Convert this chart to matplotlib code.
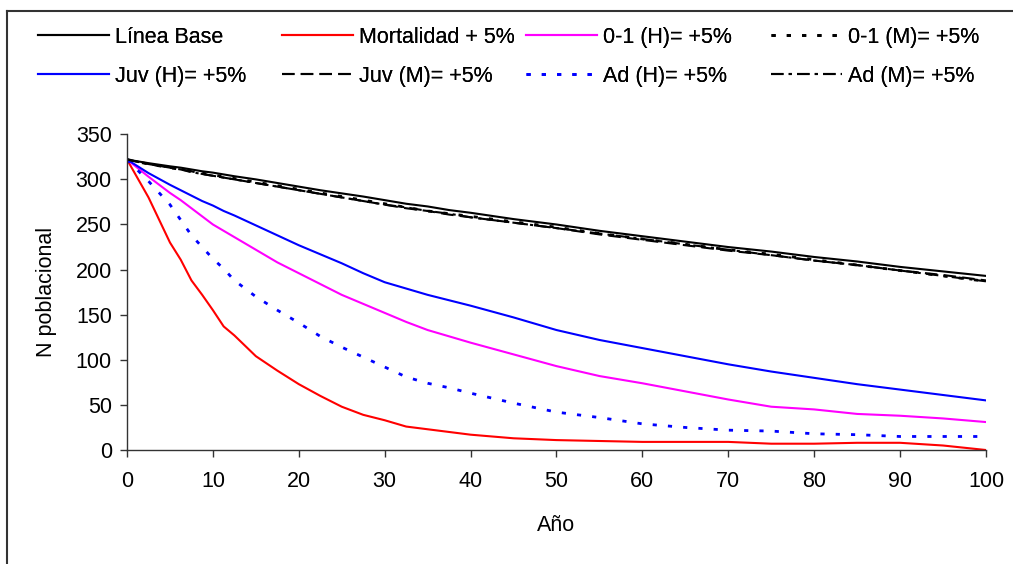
import matplotlib
matplotlib.use("Agg")
import matplotlib.pyplot as plt
from matplotlib.lines import Line2D

plt.rcParams["font.family"] = ["Liberation Sans", "DejaVu Sans"]

# Simulation years
years = [0, 2.5, 5, 6.25, 7.5, 8.75, 10, 11.25, 12.5, 15, 17.5, 20, 22.5, 25, 27.5,
         30, 32.5, 35, 37.5, 40, 45, 50, 55, 60, 65, 70, 75, 80, 85, 90, 95, 100]

# Population size under each scenario
linea_base = [322, 318, 314.5, 313, 311, 309, 307.5, 305.5, 303.5, 300, 296, 292, 288, 284.5, 281,
              277, 273, 270, 266, 263, 256, 250, 243, 237, 231, 225, 220, 214, 209, 203, 198, 193]
mortalidad = [322, 280, 230, 211, 188, 172, 155, 137, 127, 104, 88, 73, 60, 48, 39,
              33, 26, 23, 20, 17, 13, 11, 10, 9, 9, 9, 7, 7, 8, 8, 5, 0]
cria_h = [322, 303, 285, 277, 268, 259, 250, 243, 236, 222, 208, 196, 184, 172, 162,
          152, 142, 133, 126, 119, 106, 93, 82, 74, 65, 56, 48, 45, 40, 38, 35, 31]
cria_m = [322, 317, 313, 311, 309, 307, 305, 303, 301, 297, 293, 289, 285, 281, 277,
          273, 269, 265, 262, 259, 253, 247, 240, 234, 228, 222, 217, 211, 205, 199, 193, 187]
juv_h = [322, 307, 294, 288, 282, 276, 271, 265, 260, 249, 238, 227, 217, 207, 196,
         186, 179, 172, 166, 160, 147, 133, 122, 113, 104, 95, 87, 80, 73, 67, 61, 55]
juv_m = [322, 317, 313, 311, 309, 306, 304, 302, 300, 296, 292, 288, 284, 280, 276,
         272, 268, 265, 261, 258, 252, 246, 239, 233, 227, 221, 216, 210, 205, 199, 194, 188]
ad_h = [322, 298, 272, 255, 238, 225, 212, 201, 188, 170, 155, 141, 126, 114, 103,
        92, 81, 74, 69, 63, 52, 42, 36, 29, 25, 22, 21, 18, 17, 15, 15, 15]
ad_m = [322, 317, 313, 311, 308, 306, 304, 302, 300, 296, 292, 288, 284, 280, 276,
        272, 269, 265, 262, 258, 252, 246, 240, 234, 228, 222, 216, 210, 205, 199, 193, 187]

labels = ["Línea Base", "Mortalidad + 5%", "0-1 (H)= +5%", "0-1 (M)= +5%",
          "Juv (H)= +5%", "Juv (M)= +5%", "Ad (H)= +5%", "Ad (M)= +5%"]

DOT = (0, (1.5, 4))
DASH = (0, (6, 3))
DASHDOT = (0, (6, 2.5, 1.5, 2.5))

series = [
    (linea_base, "black", "-"),
    (mortalidad, "#ff0000", "-"),
    (cria_h, "#ff00ff", "-"),
    (cria_m, "black", DOT),
    (juv_h, "#0000ff", "-"),
    (juv_m, "black", DASH),
    (ad_h, "#0000ff", DOT),
    (ad_m, "black", DASHDOT),
]

FS = 15.5

fig = plt.figure(figsize=(10.13, 5.64), dpi=100)
ax = fig.add_axes([0.1254, 0.2021, 0.9733 - 0.1254, 0.7619 - 0.2021])

handles = []
for (vals, color, ls), lab in zip(series, labels):
    lw = 2.0 if ls is DOT else 1.5
    (ln,) = ax.plot(years, vals, color=color, linestyle=ls, lw=lw, label=lab)
    handles.append(ln)

ax.set_xlim(0, 100)
ax.set_ylim(0, 350)
ax.set_xticks(range(0, 101, 10))
ax.set_yticks(range(0, 351, 50))
for s in ("top", "right"):
    ax.spines[s].set_visible(False)
for s in ("left", "bottom"):
    ax.spines[s].set_color("#333333")
    ax.spines[s].set_linewidth(1.0)
ax.tick_params(axis="both", direction="out", length=5, width=1.0, color="#333333",
               labelsize=FS)
ax.tick_params(axis="y", pad=6)
ax.tick_params(axis="x", pad=10)
ax.set_xlabel("Año", fontsize=FS, labelpad=17)
ax.set_ylabel("N poblacional", fontsize=FS, labelpad=13)

# Legend: four columns, two rows, placed above the plot
col_x = [38, 282, 526, 771]
W, H = 1013, 564
for c in range(4):
    hs = [handles[c], handles[c + 4]]
    lg = fig.legend(hs, [labels[c], labels[c + 4]], loc="upper left",
                    bbox_to_anchor=(col_x[c] / W, 1 - 27 / H),
                    frameon=False, fontsize=FS, borderpad=0, borderaxespad=0,
                    handlelength=3.3, handletextpad=0.28, labelspacing=0.82)
    fig.add_artist(lg)

# Chart-area frame edges
fig.add_artist(Line2D([6.5 / W, 1.0], [1 - 10.5 / H, 1 - 10.5 / H], color="#333333", lw=1.5,
                      transform=fig.transFigure))
fig.add_artist(Line2D([6.5 / W, 6.5 / W], [0, 1 - 10.5 / H], color="#333333", lw=1.5,
                      transform=fig.transFigure))

fig.savefig("out.png", dpi=100)
